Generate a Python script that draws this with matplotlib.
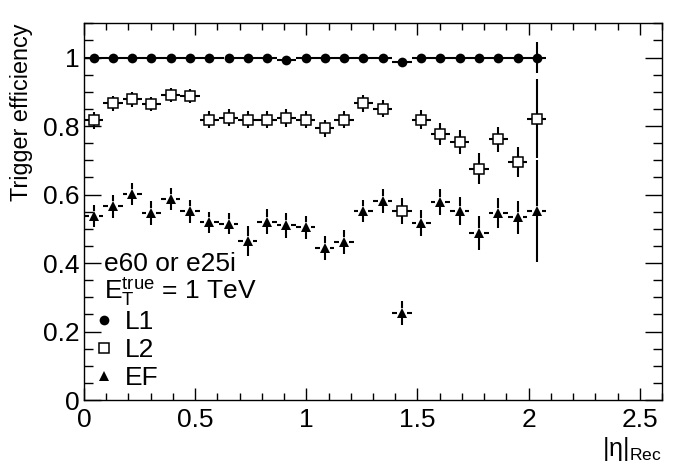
import numpy as np
import matplotlib
matplotlib.use("Agg")
import matplotlib.pyplot as plt
from matplotlib.collections import LineCollection
from matplotlib.lines import Line2D

# ---------------- data ----------------
eta_min, eta_max, n_bins = 0.0, 2.6, 30
n_filled = 24

l1_eff = [1.000, 1.000, 1.000, 1.000, 1.000, 1.000, 1.000, 1.000,
          1.000, 1.000, 0.994, 1.000, 1.000, 1.000, 1.000, 1.000,
          0.988, 1.000, 1.000, 1.000, 1.000, 1.000, 1.000, 1.000]
l1_err = [0.003] * 23 + [0.044]

l2_eff = [0.817, 0.866, 0.878, 0.864, 0.890, 0.888, 0.819, 0.824,
          0.819, 0.819, 0.823, 0.819, 0.793, 0.819, 0.866, 0.851,
          0.551, 0.819, 0.776, 0.753, 0.676, 0.761, 0.694, 0.822]
l2_err = [0.025, 0.021, 0.021, 0.021, 0.021, 0.021, 0.025, 0.025,
          0.026, 0.026, 0.026, 0.026, 0.026, 0.026, 0.024, 0.026,
          0.038, 0.028, 0.032, 0.035, 0.046, 0.037, 0.044, 0.114]

ef_eff = [0.537, 0.566, 0.601, 0.545, 0.587, 0.551, 0.519, 0.515,
          0.465, 0.521, 0.510, 0.504, 0.444, 0.460, 0.552, 0.581,
          0.254, 0.517, 0.579, 0.552, 0.488, 0.545, 0.533, 0.552]
ef_err = [0.033, 0.034, 0.033, 0.035, 0.032, 0.034, 0.031, 0.031,
          0.044, 0.036, 0.036, 0.033, 0.035, 0.035, 0.033, 0.036,
          0.034, 0.037, 0.038, 0.041, 0.050, 0.044, 0.048, 0.148]

x_ticks = [0, 0.5, 1, 1.5, 2, 2.5]
x_tick_labels = ["0", "0.5", "1", "1.5", "2", "2.5"]
y_ticks = [0, 0.2, 0.4, 0.6, 0.8, 1.0]
y_tick_labels = ["0", "0.2", "0.4", "0.6", "0.8", "1"]

header_lines = ["e60 or e25i", r"$\mathrm{E}_{\mathrm{T}}^{\mathrm{true}}$ = 1 TeV"]
series_labels = ["L1", "L2", "EF"]

# ---------------- style ----------------
plt.rcParams['font.family'] = ['Liberation Sans', 'DejaVu Sans']
plt.rcParams['mathtext.fontset'] = 'custom'
plt.rcParams['mathtext.rm'] = 'Liberation Sans'
plt.rcParams['mathtext.it'] = 'Liberation Sans:italic'
plt.rcParams['mathtext.bf'] = 'Liberation Sans:bold'

W, H, DPI = 696, 472, 100
fig = plt.figure(figsize=(W / DPI, H / DPI), dpi=DPI)
ax = fig.add_axes([84 / W, 1 - 400 / H, 578 / W, 376.7 / H])

edges = np.linspace(eta_min, eta_max, n_bins + 1)
centers = 0.5 * (edges[:-1] + edges[1:])[:n_filled]
half_w = 0.5 * (edges[1] - edges[0])

ax.set_xlim(eta_min, eta_max)
ax.set_ylim(0, 1.1)

# gap size around markers (in pixels) converted to data units
px_x = (eta_max - eta_min) / 578.0
px_y = 1.1 / 376.7

LW = 1.5


def draw_errors(x, y, ye, gap_px):
    gx = gap_px * px_x
    gy = gap_px * px_y
    segs = []
    for xi, yi, ei in zip(x, y, ye):
        segs.append([(xi - half_w, yi), (xi - gx, yi)])
        segs.append([(xi + gx, yi), (xi + half_w, yi)])
        if ei > gy:
            segs.append([(xi, yi + gy), (xi, yi + ei)])
            segs.append([(xi, yi - gy), (xi, yi - ei)])
    lc = LineCollection(segs, colors='black', linewidths=LW, capstyle='butt', zorder=2)
    ax.add_collection(lc)


draw_errors(centers, l1_eff, l1_err, 4)
draw_errors(centers, l2_eff, l2_err, 5)
draw_errors(centers, ef_eff, ef_err, 5)

ms_kw = dict(linestyle='none', color='black', zorder=3)
ax.plot(centers, l1_eff, marker='o', markersize=7, markeredgewidth=0, **ms_kw)
ax.plot(centers, l2_eff, marker='s', markersize=7.2, markerfacecolor='white',
        markeredgecolor='black', markeredgewidth=1.1, **ms_kw)
ax.plot(centers, ef_eff, marker='^', markersize=7.5, markeredgewidth=0, **ms_kw)

# axes and ticks (ROOT style)
ax.set_xticks(x_ticks)
ax.set_xticklabels(x_tick_labels)
ax.set_yticks(y_ticks)
ax.set_yticklabels(y_tick_labels)
ax.set_xticks(np.arange(0, 2.61, 0.1), minor=True)
ax.set_yticks(np.arange(0, 1.101, 0.05), minor=True)
ax.tick_params(which='both', direction='in', top=True, right=True, width=1.0,
               labelsize=19)
ax.tick_params(axis='x', which='major', length=8.4, pad=6)
ax.tick_params(axis='x', which='minor', length=4.8)
ax.tick_params(axis='y', which='major', length=12.2, pad=3)
ax.tick_params(axis='y', which='minor', length=6.5)
for sp in ax.spines.values():
    sp.set_linewidth(1.0)

ax.set_ylabel("Trigger efficiency", fontsize=16.8, loc='top')
ax.yaxis.set_label_coords(-0.088, 1.0)
ax.set_xlabel(r"$\mathrm{|\eta|}_{\mathrm{Rec}}$", fontsize=18, loc='right', labelpad=2)

# header text (one text block, two lines)
ax.text(0.034, 0.392, "\n".join(header_lines), transform=ax.transAxes, fontsize=19,
        ha='left', va='top', linespacing=0.95)

handles = [
    Line2D([], [], linestyle='none', marker='o', markersize=7, color='black', markeredgewidth=0),
    Line2D([], [], linestyle='none', marker='s', markersize=7.2, markerfacecolor='white',
           markeredgecolor='black', markeredgewidth=1.1),
    Line2D([], [], linestyle='none', marker='^', markersize=7.5, color='black', markeredgewidth=0),
]
leg = ax.legend(handles, series_labels, loc='upper left', bbox_to_anchor=(0.0164, 0.238),
                frameon=False, fontsize=19, handlelength=0.8, handletextpad=0.4,
                borderpad=0, borderaxespad=0, labelspacing=0.15)

fig.savefig("out.png", dpi=DPI)
